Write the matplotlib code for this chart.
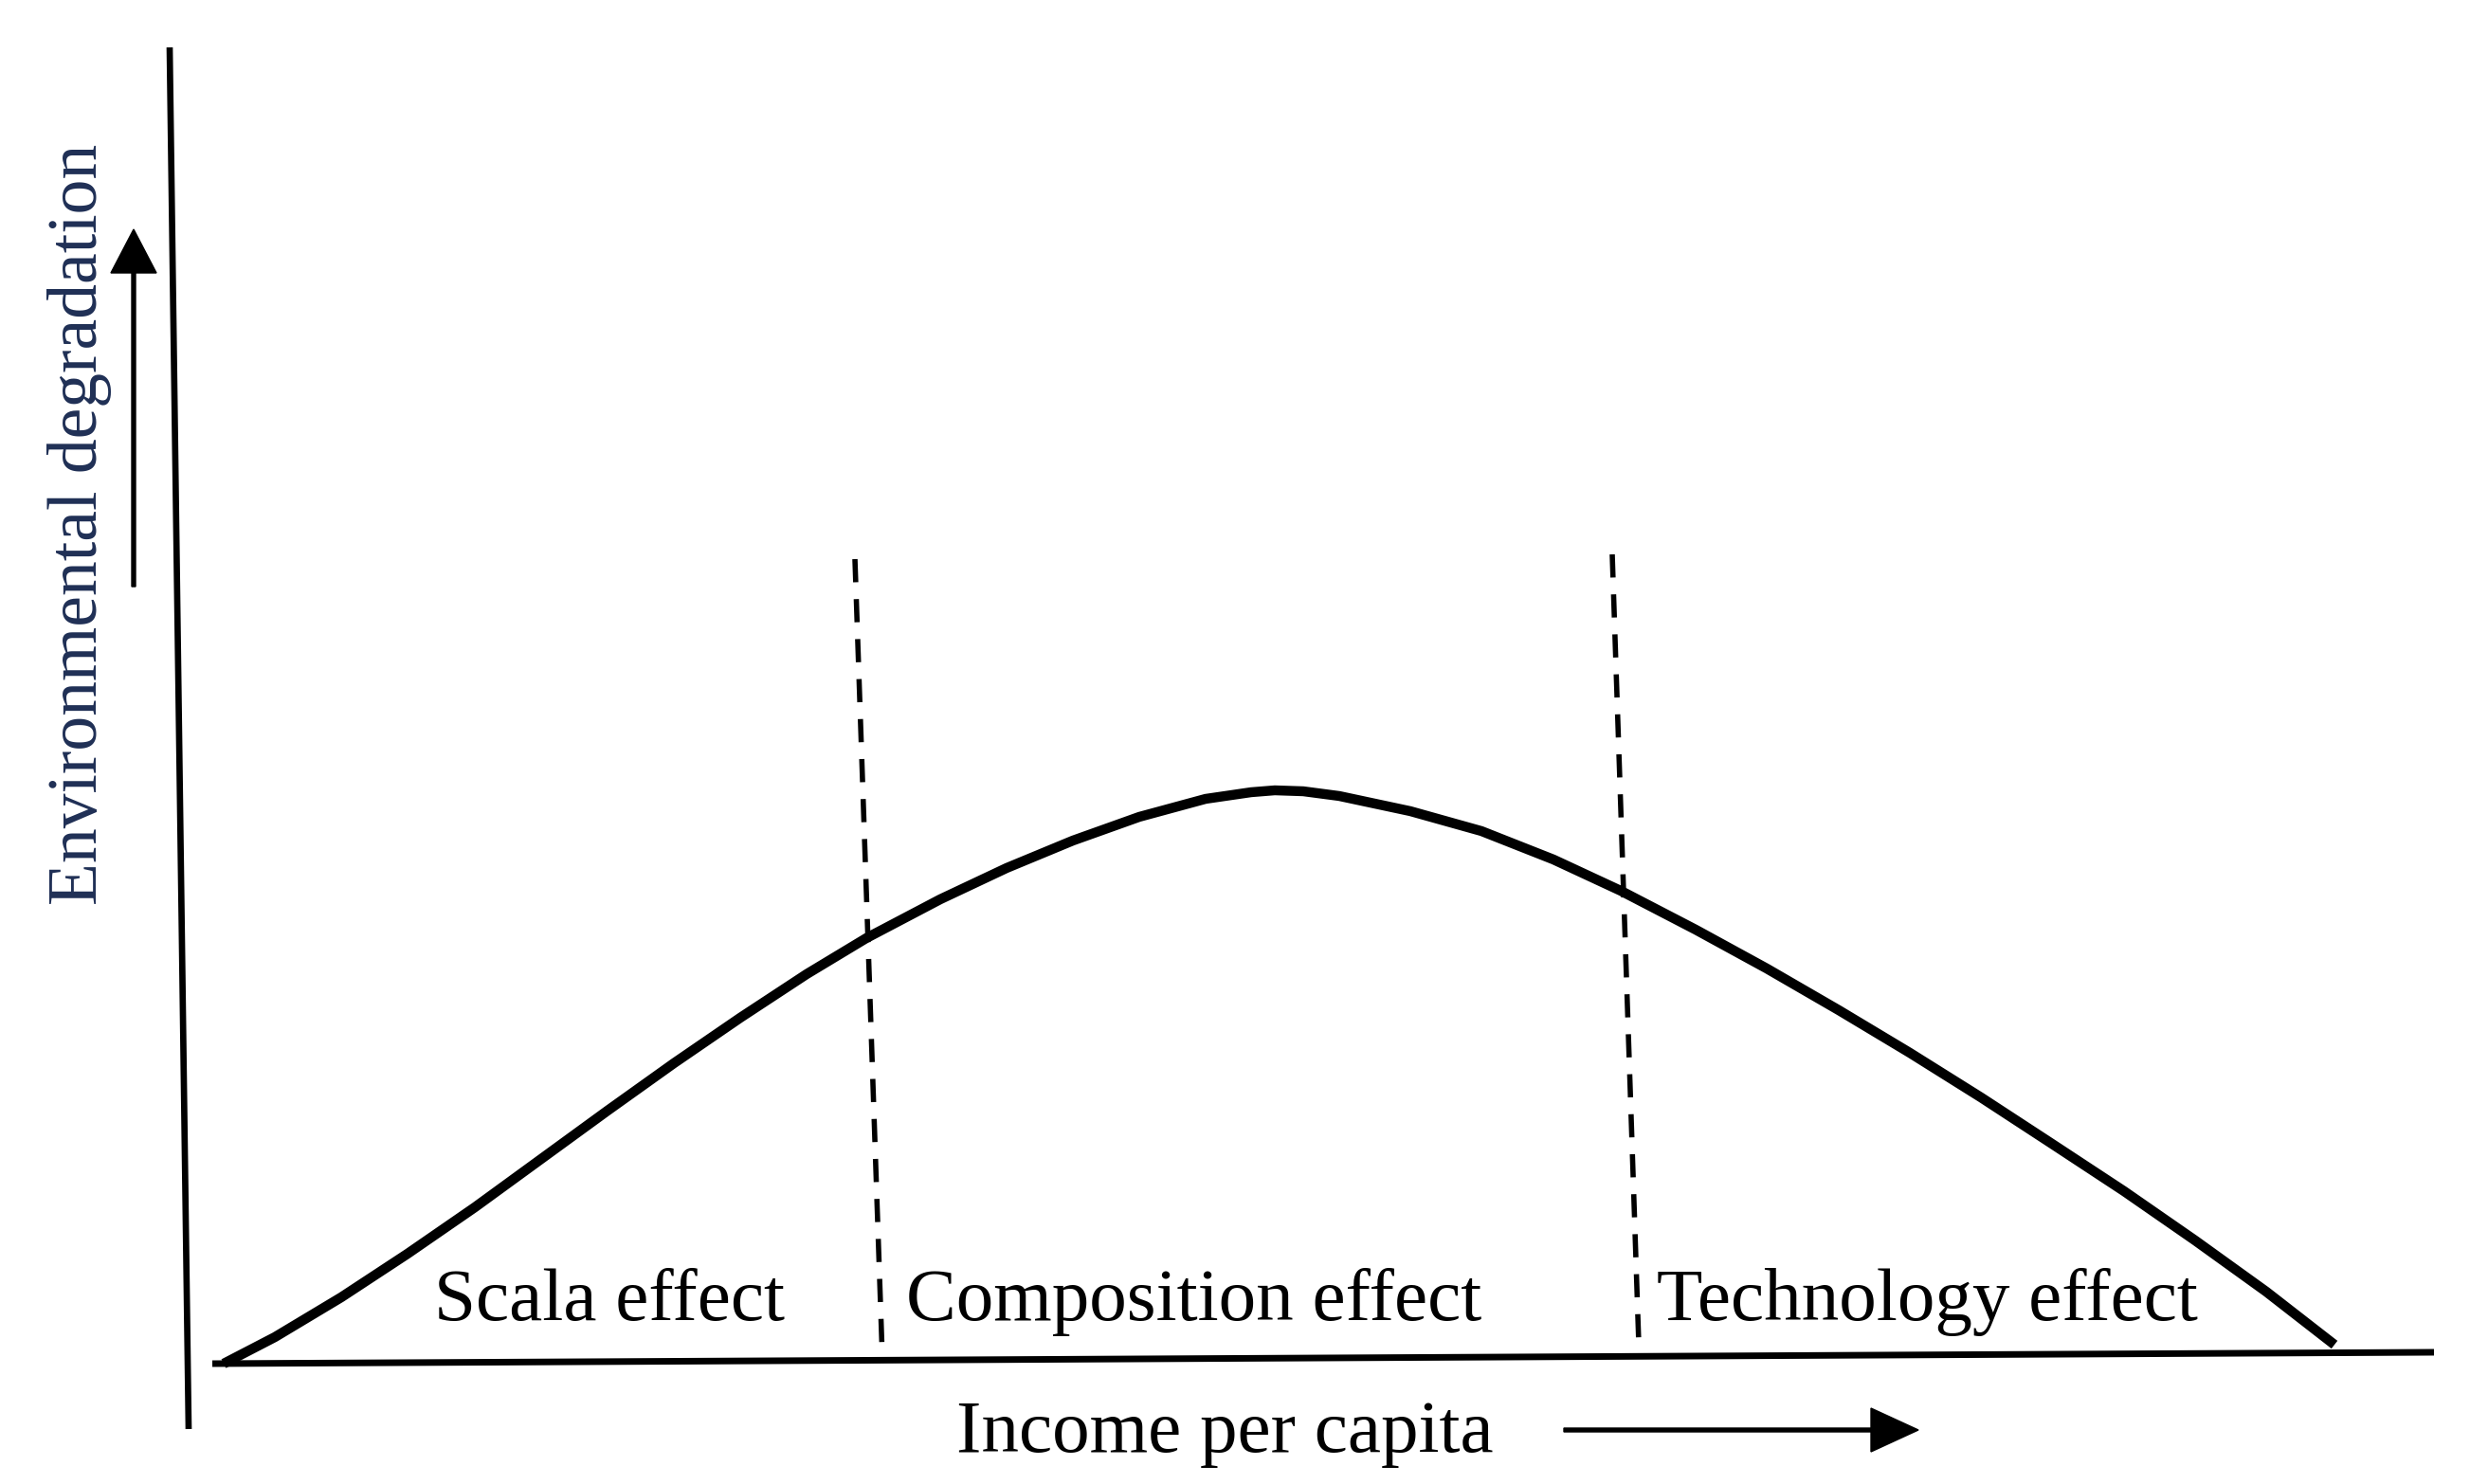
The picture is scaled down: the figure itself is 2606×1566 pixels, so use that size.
import matplotlib.pyplot as plt

# Conceptual EKC diagram, coordinates on a 2606 x 1566 canvas (y grows downward)
curve_x = [236, 290, 360, 430, 501, 571, 641, 711, 781, 851, 914, 992, 1062, 1132, 1202,
           1272, 1320, 1345, 1375, 1413, 1488, 1563, 1639, 1710, 1789, 1864, 1940, 2015,
           2090, 2165, 2241, 2316, 2391, 2463]
curve_y = [1439, 1411, 1369, 1323, 1274, 1223, 1172, 1122, 1074, 1028, 990, 949, 916, 887, 862,
           843, 836, 834, 835, 840, 856, 877, 907, 940, 981, 1022, 1066, 1111,
           1158, 1207, 1257, 1309, 1363, 1419]

# axis lines (slightly tilted in the original drawing)
yaxis_x = [179, 199]
yaxis_y = [50, 1508]
xaxis_x = [224, 2568]
xaxis_y = [1439, 1427]

# dashed separators between the three effects
sep_x = [[902, 931], [1701, 1729]]
sep_y = [[590, 1435], [585, 1418]]

effect_labels = ['Scala effect', 'Composition effect', 'Technology effect']
effect_x = [458, 956, 1748]
effect_base = 1393

serif = ['Liberation Serif', 'DejaVu Serif']

fig = plt.figure(figsize=(26.06, 15.66), dpi=100)
ax = fig.add_axes([0, 0, 1, 1])
ax.set_xlim(0, 2606)
ax.set_ylim(1566, 0)
ax.axis('off')

# axes
ax.plot(yaxis_x, yaxis_y, color='black', lw=4.8, solid_capstyle='butt')
ax.plot(xaxis_x, xaxis_y, color='black', lw=5.0, solid_capstyle='butt')

# the curve
ax.plot(curve_x, curve_y, color='black', lw=7.5, solid_capstyle='butt', solid_joinstyle='round')

# separators
for sx, sy in zip(sep_x, sep_y):
    ax.plot(sx, sy, color='black', lw=4.0, linestyle=(0, (4.4, 3.2)))

# effect labels
for lab, x in zip(effect_labels, effect_x):
    ax.text(x, effect_base, lab, fontsize=57, family=serif, ha='left', va='baseline')

# axis titles
ax.text(102, 553, 'Environmental degradation', fontsize=53, family=serif, color='#1f2f55',
        rotation=90, rotation_mode='anchor', ha='center', va='baseline')
ax.text(1009, 1532, 'Income per capita', fontsize=57, family=serif, ha='left', va='baseline')

# arrows
ax.arrow(141, 619, 0, -377, width=4, head_width=48, head_length=46,
         length_includes_head=True, color='black')
ax.arrow(1650, 1509, 374, 0, width=4, head_width=46, head_length=50,
         length_includes_head=True, color='black')

plt.savefig('out.png', dpi=100, facecolor='white')
